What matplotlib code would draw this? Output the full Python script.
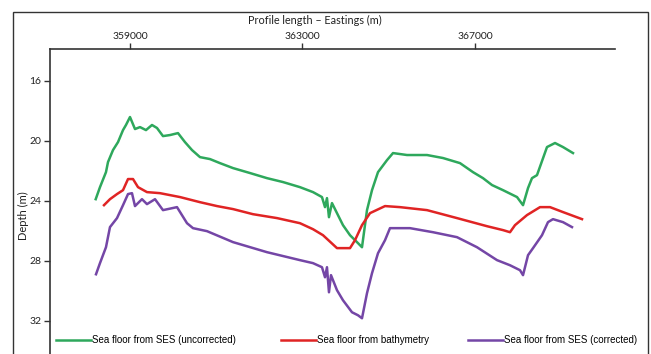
import matplotlib
matplotlib.use("Agg")
import matplotlib.pyplot as plt
from matplotlib.patches import Rectangle

# eastings (m) and depths (m) along the profile
east_unc = [358205, 358304, 358443, 358490, 358606, 358722, 358838, 358907, 359000, 359116,
            359232, 359371, 359510, 359626, 359765, 359928, 360113, 360275, 360438, 360623,
            360855, 361087, 361389, 361783, 362177, 362548, 362942, 363244, 363452, 363522,
            363568, 363614, 363684, 363800, 363939, 364102, 364264, 364380, 364496, 364612,
            364751, 364960, 365099, 365424, 365888, 366258, 366653, 366954, 367186, 367395,
            367650, 367975, 368114, 368230, 368322, 368438, 368670, 368856, 369041, 369273]
depth_unc = [23.89, 23.09, 22.09, 21.42, 20.62, 20.09, 19.29, 18.95, 18.42, 19.22,
             19.09, 19.29, 18.95, 19.15, 19.69, 19.62, 19.49, 20.09, 20.62, 21.09,
             21.22, 21.49, 21.82, 22.15, 22.49, 22.75, 23.09, 23.42, 23.75, 24.42,
             23.82, 25.09, 24.15, 24.82, 25.62, 26.29, 26.75, 27.09, 24.62, 23.29,
             22.09, 21.29, 20.82, 20.95, 20.95, 21.15, 21.49, 22.09, 22.49, 22.95,
             23.29, 23.75, 24.29, 23.15, 22.49, 22.29, 20.42, 20.15, 20.42, 20.82]

east_bath = [358397, 358536, 358699, 358838, 358954, 359070, 359186, 359394, 359696, 360160,
             360623, 361018, 361389, 361852, 362409, 362942, 363244, 363476, 363800, 364102,
             364218, 364380, 364566, 364914, 365261, 365888, 366583, 367279, 367650, 367812,
             367928, 368206, 368508, 368740, 369041, 369482]
depth_bath = [24.29, 23.89, 23.55, 23.29, 22.55, 22.55, 23.09, 23.42, 23.49, 23.75,
              24.09, 24.35, 24.55, 24.89, 25.15, 25.49, 25.89, 26.29, 27.15, 27.15,
              26.62, 25.62, 24.82, 24.35, 24.42, 24.62, 25.15, 25.69, 25.95, 26.09,
              25.62, 24.95, 24.42, 24.42, 24.75, 25.22]

east_cor = [358212, 358304, 358443, 358536, 358699, 358838, 358954, 359046, 359116, 359278,
            359394, 359580, 359765, 360090, 360322, 360461, 360786, 361389, 362177, 362942,
            363244, 363452, 363522, 363568, 363614, 363661, 363800, 363939, 364148, 364287,
            364380, 364496, 364612, 364751, 364914, 365029, 365493, 366026, 366583, 367047,
            367511, 367812, 368044, 368114, 368230, 368346, 368554, 368693, 368809, 369041,
            369250]
depth_cor = [28.89, 28.15, 27.09, 25.75, 25.15, 24.29, 23.55, 23.49, 24.35, 23.89,
             24.22, 23.89, 24.62, 24.42, 25.49, 25.82, 26.02, 26.75, 27.42, 27.95,
             28.15, 28.42, 29.09, 28.42, 30.09, 28.95, 29.95, 30.62, 31.42, 31.62,
             31.82, 30.15, 28.82, 27.49, 26.62, 25.82, 25.82, 26.09, 26.42, 27.09,
             27.95, 28.29, 28.62, 28.95, 27.62, 27.15, 26.29, 25.42, 25.22, 25.42,
             25.75]

xticks = [359000, 363000, 367000]
yticks = [16, 20, 24, 28, 32]

plt.rcParams['font.family'] = ['Lato', 'DejaVu Sans']

fig = plt.figure(figsize=(6.51, 3.54), dpi=100)
W, H = 651, 354

# outer frame
fig.patches.append(Rectangle((13 / W, -0.05), 635 / W, 1.05 - 12 / H, transform=fig.transFigure,
                             fill=False, edgecolor='#333333', linewidth=1.0))

ax = fig.add_axes([50 / W, 0, 565 / W, 1 - 49 / H])

l1, = ax.plot(east_unc, depth_unc, color='#2ea85c', lw=1.8, label='Sea floor from SES (uncorrected)')
l2, = ax.plot(east_bath, depth_bath, color='#e02424', lw=1.8, label='Sea floor from bathymetry')
l3, = ax.plot(east_cor, depth_cor, color='#7446a6', lw=1.8, label='Sea floor from SES (corrected)')

ax.set_xlim(357145, 370247)
ax.set_ylim(34.2, 13.89)
ax.set_xticks(xticks)
ax.set_xticklabels([str(t) for t in xticks])
ax.set_yticks(yticks)
ax.xaxis.tick_top()
ax.tick_params(axis='both', labelsize=7.5, length=4, width=1, color='#333333', pad=2,
               labelcolor='#222222')
ax.spines['right'].set_visible(False)
ax.spines['bottom'].set_visible(False)
for s in ['left', 'top']:
    ax.spines[s].set_color('#333333')
    ax.spines[s].set_linewidth(1.2)

fig.text(315 / W, 1 - 20 / H, 'Profile length – Eastings (m)', ha='center', va='center',
         fontsize=7.8, color='#222222')
fig.text(23 / W, 1 - 216 / H, 'Depth (m)', ha='center', va='center', rotation=90,
         fontsize=8, color='#222222')

# one legend entry per line, spaced along the bottom
for line, x0 in [(l1, 56), (l2, 281), (l3, 468)]:
    fig.legend(handles=[line], loc='center left', bbox_to_anchor=(x0 / W, 1 - 340 / H),
               frameon=False, handlelength=3.6, handletextpad=0.15, borderpad=0,
               borderaxespad=0, prop={'family': 'Liberation Sans', 'size': 7})

fig.savefig('out.png', dpi=100)
